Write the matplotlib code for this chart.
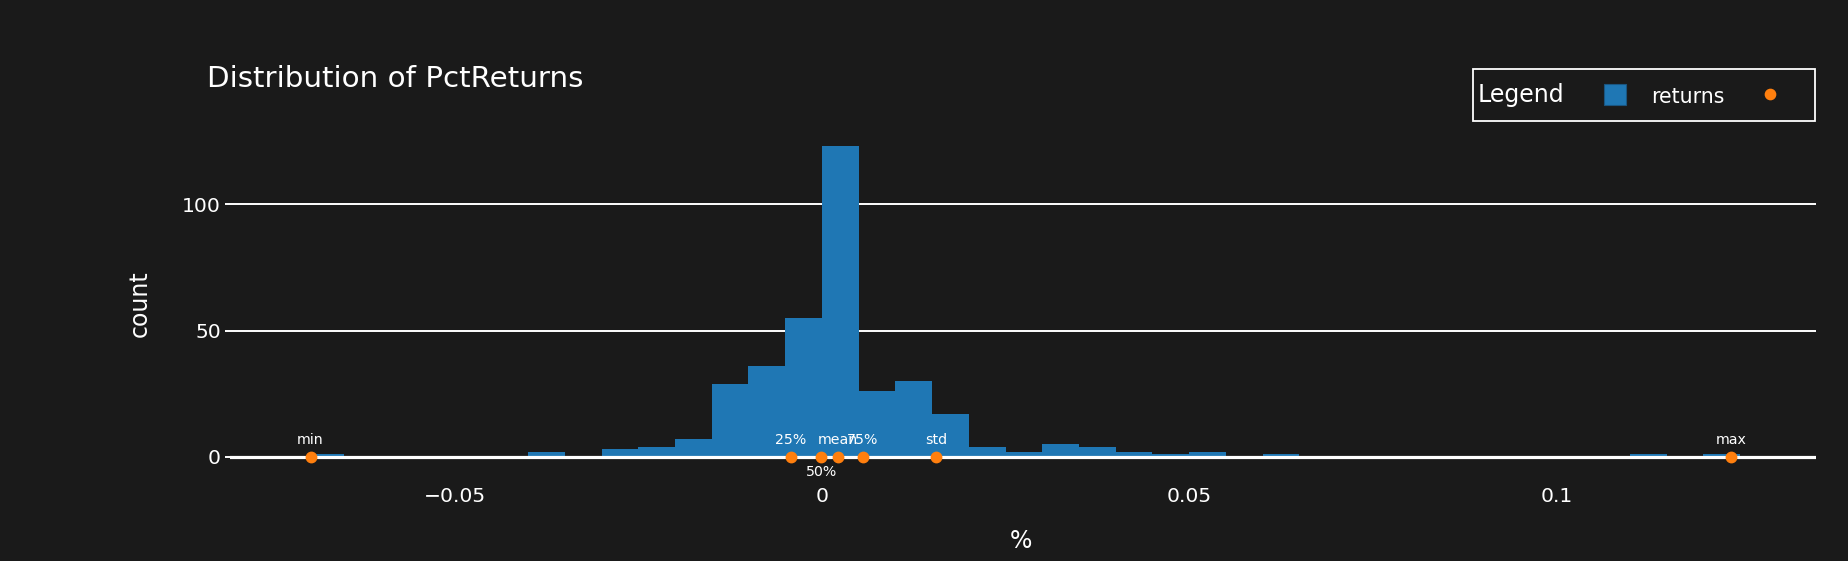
import matplotlib.pyplot as plt
from matplotlib.patches import Rectangle
from matplotlib.lines import Line2D

# histogram bins (left edges, width 0.005) and counts
bin_width = 0.005
bin_left = [-0.070, -0.065, -0.060, -0.055, -0.050, -0.045, -0.040, -0.035,
            -0.030, -0.025, -0.020, -0.015, -0.010, -0.005, 0.000, 0.005,
            0.010, 0.015, 0.020, 0.025, 0.030, 0.035, 0.040, 0.045, 0.050,
            0.055, 0.060, 0.065, 0.070, 0.075, 0.080, 0.085, 0.090, 0.095,
            0.100, 0.105, 0.110, 0.115, 0.120]
counts = [1, 0, 0, 0, 0, 0, 2, 0,
          3, 4, 7, 29, 36, 55, 123, 26,
          30, 17, 4, 2, 5, 4, 2, 1, 2,
          0, 1, 0, 0, 0, 0, 0, 0, 0,
          0, 0, 1, 0, 1]

# summary statistics shown as markers on the zero line
stat_names = ["min", "25%", "50%", "mean", "75%", "std", "max"]
stat_values = [-0.0696, -0.0042, -0.0001, 0.0022, 0.0056, 0.0156, 0.1238]

xticks = [-0.05, 0, 0.05, 0.1]
xtick_labels = ["\u22120.05", "0", "0.05", "0.1"]
yticks = [0, 50, 100]

BG = "#1a1a1a"
BLUE = "#1f77b4"
ORANGE = "#ff7f0e"
W, H = 1849, 561

plt.rcParams["font.family"] = ["DejaVu Sans"]

fig = plt.figure(figsize=(W / 100, H / 100), dpi=100, facecolor=BG)

# plot area in pixels
left, right, top, bottom = 230, 1816, 130, 469
ax = fig.add_axes([left / W, 1 - bottom / H, (right - left) / W, (bottom - top) / H])
ax.set_facecolor(BG)

# pixel mapping: x=0 at 821.9 px, 7346 px per unit
x0_px, x_scale = 821.9, 7346.0
y0_px, y_scale = 457.0, 2.526
ax.set_xlim((left - x0_px) / x_scale, (right - x0_px) / x_scale)
ax.set_ylim((y0_px - bottom) / y_scale, (y0_px - top) / y_scale)

ax.bar(bin_left, counts, width=bin_width, align="edge", color=BLUE,
       linewidth=0, zorder=2)

for y in yticks[1:]:
    ax.axhline(y, color="white", linewidth=1.4, zorder=1)
ax.axhline(0, color="white", linewidth=2.3, zorder=2.5)

ax.scatter(stat_values, [0] * len(stat_values), s=56, color=ORANGE,
           zorder=4, clip_on=False)
for name, val in zip(stat_names, stat_values):
    dy = -10.5 if name == "50%" else 12
    ax.annotate(name, (val, 0), xytext=(0, dy), textcoords="offset points",
                ha="center", va="center", color="white", fontsize=10.2,
                zorder=5, annotation_clip=False)

for s in ax.spines.values():
    s.set_visible(False)

ax.set_xticks(xticks)
ax.set_xticklabels(xtick_labels)
ax.set_yticks(yticks)
ax.tick_params(axis="x", length=0, pad=13, labelsize=14.6, colors="white")
ax.tick_params(axis="y", length=3.6, width=1.4, pad=3, labelsize=14.6,
               colors="white")

ax.set_xlabel("%", color="white", fontsize=17, va="center")
ax.set_ylabel("count", color="white", fontsize=17, va="center")
ax.xaxis.set_label_coords((1021 - left) / (right - left), (bottom - 541) / (bottom - top))
ax.yaxis.set_label_coords((140 - left) / (right - left), (bottom - 304) / (bottom - top))

# title
fig.text(207 / W, 1 - 86.7 / H, "Distribution of PctReturns", color="white",
         fontsize=21.2, ha="left", va="baseline")

# legend drawn to mimic horizontal plotly legend
fig.add_artist(Rectangle((1472.7 / W, 1 - 121 / H), (1815 - 1472.7) / W,
                         (121 - 69) / H, transform=fig.transFigure,
                         facecolor=BG, edgecolor="white", linewidth=1.3))
fig.text(1478 / W, 1 - 102.3 / H, "Legend", color="white", fontsize=17,
         ha="left", va="baseline")
fig.add_artist(Rectangle((1604 / W, 1 - 105 / H), 22 / W, 21 / H,
                         transform=fig.transFigure, facecolor=BLUE,
                         edgecolor="#1a5580", linewidth=0.8))
fig.text(1651 / W, 1 - 103.3 / H, "returns", color="white", fontsize=14.8,
         ha="left", va="baseline")
fig.add_artist(Line2D([1770 / W], [1 - 94.3 / H], transform=fig.transFigure,
                      marker="o", markersize=7.4, color=ORANGE,
                      linestyle="none"))

fig.savefig("out.png", dpi=100, facecolor=BG)
